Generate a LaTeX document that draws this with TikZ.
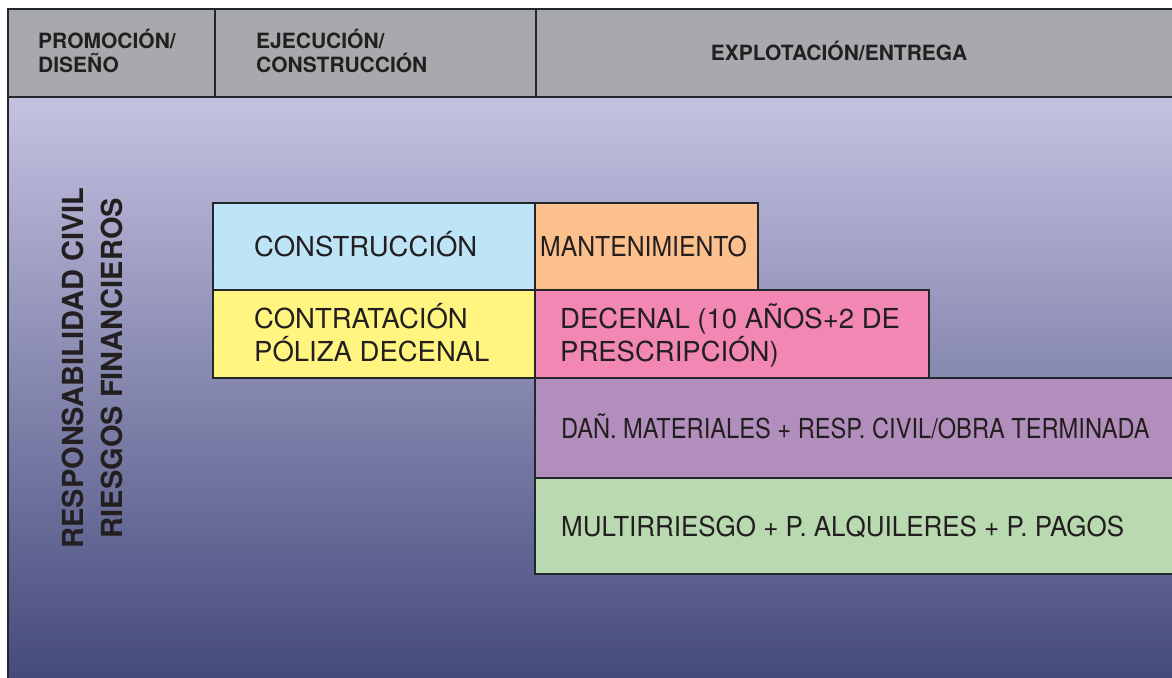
\documentclass[tikz,border=0pt]{standalone}
\usepackage{fontspec}
\setmainfont{TeX Gyre Heros}

\definecolor{framec}{RGB}{35,38,42}
\definecolor{inktext}{RGB}{35,31,32}
\definecolor{headgray}{RGB}{167,169,172}
\definecolor{bgtop}{RGB}{197,194,225}
\definecolor{bgbottom}{RGB}{66,72,122}
\definecolor{constblue}{RGB}{190,228,247}
\definecolor{mantorange}{RGB}{252,192,140}
\definecolor{polyellow}{RGB}{255,245,128}
\definecolor{decpink}{RGB}{243,135,180}
\definecolor{danpurple}{RGB}{178,142,189}
\definecolor{multigreen}{RGB}{185,217,176}

\tikzset{
    headtxt/.style={font=\fontsize{21}{24}\selectfont\bfseries, text=inktext, align=left, inner sep=0pt},
    celltxt/.style={font=\fontsize{27.5}{33}\selectfont, text=inktext, align=left, inner sep=0pt},
    sidetxt/.style={font=\fontsize{29}{39}\selectfont\bfseries, text=inktext, align=center, inner sep=0pt, rotate=90},
    cellbox/.style={draw=framec, line width=2pt}
}

\begin{document}
\begin{tikzpicture}[x=1pt,y=-1pt]
        % Page size (pixels of the original)
        \useasboundingbox (0,0) rectangle (1172,677);
        \clip (0,0) rectangle (1172,677);

        % Background gradient
        \shade[top color=bgtop, bottom color=bgbottom] (8,97) rectangle (1190,690);

        % Header row
        \fill[headgray] (8,9) rectangle (1190,97);
        \draw[framec, line width=2pt] (215,9) -- (215,97) (536,9) -- (536,97);
        \draw[framec, line width=2.5pt] (8,690) -- (8,9) -- (1190,9);
        \draw[framec, line width=2.5pt] (8,97) -- (1190,97);
        % (base = baseline of the last line)
        \node[headtxt, anchor=base west] (promocion) at (38,72) {PROMOCIÓN/\\DISEÑO};
        \node[headtxt, anchor=base west] (ejecucion) at (256,72) {EJECUCIÓN/\\CONSTRUCCIÓN};
        \node[headtxt, anchor=base] (explotacion) at (839,60.5) {EXPLOTACIÓN/ENTREGA};

        % Side label
        \node[sidetxt] (riesgos) at (92.5,368) {RESPONSABILIDAD CIVIL\\RIESGOS FINANCIEROS};

        % Coverage cells
        \draw[cellbox, fill=constblue] (213,203) rectangle (535,290);
        \draw[cellbox, fill=mantorange] (535,203) rectangle (758,290);
        \draw[cellbox, fill=polyellow] (213,290) rectangle (535,378);
        \draw[cellbox, fill=decpink] (535,290) rectangle (929,378);
        \draw[cellbox, fill=danpurple] (535,378) rectangle (1190,478);
        \draw[cellbox, fill=multigreen] (535,478) rectangle (1190,574);

        % Cell texts
        \node[celltxt, anchor=base west] (construccion) at (254,256.5) {CONSTRUCCIÓN};
        \node[celltxt, anchor=base west] (mantenimiento) at (540,256.5) {\scalebox{0.9}[1]{MANTENIMIENTO}};
        \node[celltxt, anchor=base west] (contratacion) at (254,361) {CONTRATACIÓN\\PÓLIZA DECENAL};
        \node[celltxt, anchor=base west] (decenal) at (560,361) {DECENAL (10 AÑOS+2 DE\\PRESCRIPCIÓN)};
        \node[celltxt, anchor=base west] (danos) at (561,438.5) {\scalebox{0.86}[1]{DAÑ. MATERIALES + RESP. CIVIL/OBRA TERMINADA}};
        \node[celltxt, anchor=base west] (multirriesgo) at (561,536) {\scalebox{0.944}[1]{MULTIRRIESGO + P. ALQUILERES + P. PAGOS}};
\end{tikzpicture}
\end{document}
